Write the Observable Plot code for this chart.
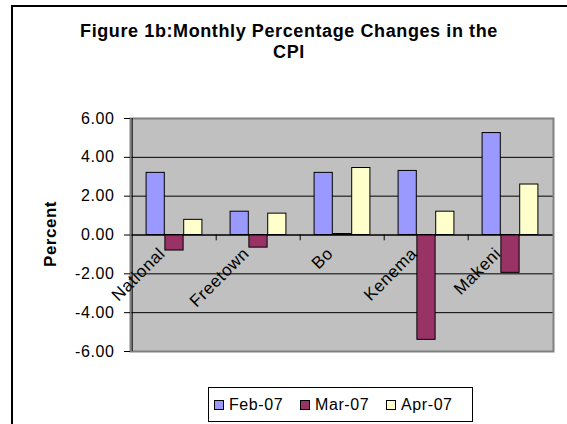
<!DOCTYPE html>
<html>
<head>
<meta charset="utf-8">
<script src="https://cdn.jsdelivr.net/npm/d3@7"></script>
<script src="https://cdn.jsdelivr.net/npm/@observablehq/plot@0.6"></script>
<style>
  html, body { margin: 0; padding: 0; background: #fff; }
  #wrap { position: relative; width: 567px; height: 424px; overflow: hidden; background: #fff;
          font-family: "Liberation Sans", Arial, sans-serif; }
  #border { position: absolute; left: 11px; top: 5px; width: 700px; height: 700px;
            border-left: 2px solid #000; border-top: 2px solid #000; }
  #title { position: absolute; left: 0; top: 21px; width: 578px; text-align: center;
           font-weight: bold; font-size: 18px; letter-spacing: 0.6px; line-height: 21px; color: #000; }
  #chart { position: absolute; left: 0; top: 0; }
  #legend { position: absolute; left: 208px; top: 387px; width: 265px; height: 35px; box-sizing: border-box;
            border: 1px solid #000; background: #fff; display: flex; align-items: center;
            padding-left: 5px; font-size: 16px; letter-spacing: 0.6px; color: #000; }
  .item { display: flex; align-items: center; width: 86px; }
  .sw { width: 8px; height: 8px; border: 1px solid #000; margin-right: 5px; flex: none; }
</style>
</head>
<body>
<div id="wrap">
  <div id="border"></div>
  <div id="chart"></div>
  <div id="title">Figure 1b:Monthly Percentage Changes in the<br>CPI</div>
  <div id="legend"></div>
</div>
<script>
const categories = ["National", "Freetown", "Bo", "Kenema", "Makeni"];
const seriesNames = ["Feb-07", "Mar-07", "Apr-07"];
const feb07 = [3.2, 1.2, 3.2, 3.3, 5.25];
const mar07 = [-0.8, -0.65, 0.05, -5.4, -1.95];
const apr07 = [0.78, 1.1, 3.45, 1.2, 2.6];
const seriesColors = ["#9999FF", "#993366", "#FFFFCC"];
const yTicks = [-6, -4, -2, 0, 2, 4, 6];
const yLabel = "Percent";

const seriesValues = [feb07, mar07, apr07];
const rows = seriesValues.map((vals, s) =>
  vals.map((v, i) => ({category: categories[i], series: seriesNames[s], value: v}))
);

const W = 567, H = 424, mL = 130, mR = 14, mT = 118, mB = 73;
const band = (W - mL - mR) / categories.length;
const barW = band / 4.5;
const inset = (band - barW) / 2;

const barMarks = rows.map((data, s) =>
  Plot.barY(data, {
    x: "category", y: "value",
    fill: seriesColors[s], stroke: "#000", strokeWidth: 1,
    insetLeft: inset, insetRight: inset, dx: (s - 1) * barW
  })
);

const plot = Plot.plot({
  width: W, height: H,
  marginLeft: mL, marginRight: mR, marginTop: mT, marginBottom: mB,
  style: {fontFamily: "'Liberation Sans', Arial, sans-serif", fontSize: "15px", color: "#000", background: "transparent"},
  x: {type: "band", domain: categories, padding: 0, axis: null},
  y: {domain: [-6, 6], axis: null},
  marks: [
    Plot.frame({fill: "#C0C0C0", stroke: null}),
    Plot.gridY(yTicks, {stroke: "#000", strokeOpacity: 1, strokeWidth: 1}),
    ...barMarks,
    Plot.ruleY([0], {stroke: "#000", strokeWidth: 1}),
    Plot.ruleX(categories.slice(1), {x: d => d, dx: -band / 2, y1: 0, y2: -0.3, stroke: "#000"}),
    Plot.frame({stroke: "#808080", strokeWidth: 2}),
    Plot.ruleX([categories[0]], {x: d => d, dx: -band / 2, stroke: "#000", strokeWidth: 1}),
    Plot.axisY({ticks: yTicks, tickFormat: d => d.toFixed(2), tickSize: 6, tickPadding: 10,
                fontSize: 16, label: null, ariaDescription: "ytick"}),
    Plot.text(categories, {x: d => d, y: 0, rotate: -45, textAnchor: "end", lineAnchor: "top",
                           dx: -17, dy: 11, fontSize: 17, fill: "#000", ariaDescription: "xlab"}),
    Plot.text([yLabel], {frameAnchor: "left", textAnchor: "middle", rotate: -90, dx: -80, dy: -1,
                         fontSize: 17, fontWeight: "bold", fill: "#000", ariaDescription: "ylab"})
  ]
});
document.getElementById("chart").appendChild(plot);

d3.select(plot).selectAll('g[aria-description="ytick"] text').attr("letter-spacing", "0.6px");
d3.select(plot).selectAll('g[aria-description="xlab"] text').attr("letter-spacing", "0.6px");
d3.select(plot).selectAll('g[aria-description="ylab"] text').attr("letter-spacing", "0.5px");

const legend = document.getElementById("legend");
seriesNames.forEach((name, i) => {
  const item = document.createElement("div");
  item.className = "item";
  const sw = document.createElement("div");
  sw.className = "sw";
  sw.style.background = seriesColors[i];
  const t = document.createElement("span");
  t.textContent = name;
  item.appendChild(sw);
  item.appendChild(t);
  legend.appendChild(item);
});
</script>
</body>
</html>
